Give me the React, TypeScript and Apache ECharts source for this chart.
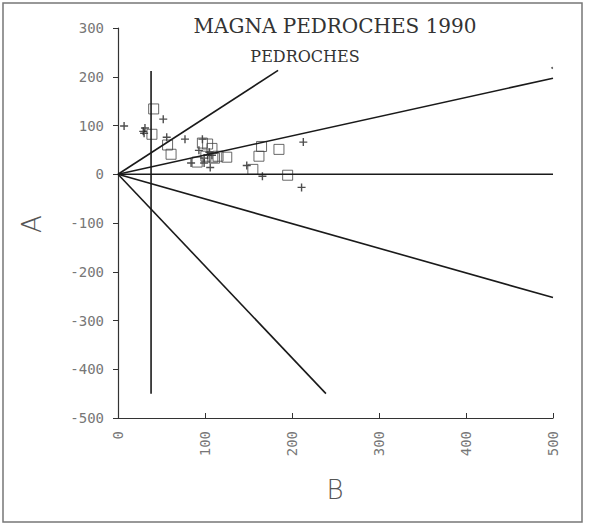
import React, { useEffect, useRef } from "react";
import * as echarts from "echarts";

const xTicks = [0, 100, 200, 300, 400, 500];
const yTicks = [-500, -400, -300, -200, -100, 0, 100, 200, 300];

const plusPoints: [number, number][] = [
  [7, 99], [52, 113], [31, 95], [29, 88], [30, 84], [56, 76], [77, 72], [97, 72],
  [93, 49], [84, 23], [99, 23], [106, 14], [103, 39], [99, 33], [108, 39], [105, 45],
  [148, 18], [166, -4], [213, 66], [211, -27],
];

const squarePoints: [number, number][] = [
  [41, 134], [39, 82], [57, 60], [61, 41], [97, 64], [103, 62], [108, 53], [101, 37],
  [111, 33], [91, 25], [125, 35], [165, 57], [185, 51], [162, 37], [155, 10], [195, -2],
  [109, 35], [115, 37],
];

const extraDot: [number, number][] = [[499, 218]];

const rayLines: [number, number][][] = [
  [[0, 0], [184, 213]],
  [[0, 0], [500, 197]],
  [[0, 0], [500, 0]],
  [[0, 0], [500, -253]],
  [[0, 0], [239, -450]],
];
const verticalLine: [number, number][] = [[38, 212], [38, -450]];

const titleText = "MAGNA PEDROCHES 1990";
const subtitleText = "PEDROCHES";
const xName = "B";
const yName = "A";

export default function App() {
  const ref = useRef<HTMLDivElement>(null);
  useEffect(() => {
    if (!ref.current) return;
    const chart = echarts.init(ref.current, undefined, { renderer: "svg" });
    const lineColor = "#1a1a1a";
    const mono = "'DejaVu Sans Mono', monospace";
    const series: any[] = [];
    rayLines.concat([verticalLine]).forEach((seg, i) => {
      series.push({
        type: "line",
        name: "line" + i,
        data: seg,
        symbol: "none",
        lineStyle: { color: lineColor, width: 1.6 },
        silent: true,
      });
    });
    series.push({
      type: "scatter",
      name: "plus",
      data: plusPoints,
      symbol: "path://M5,0 L5,10 M0,5 L10,5",
      symbolSize: 8,
      itemStyle: { color: "transparent", borderColor: "#222", borderWidth: 1.4 },
    });
    series.push({
      type: "scatter",
      name: "square",
      data: squarePoints,
      symbol: "rect",
      symbolSize: 10,
      itemStyle: { color: "transparent", borderColor: "#444", borderWidth: 1 },
    });
    series.push({
      type: "scatter",
      name: "dot",
      data: extraDot,
      symbol: "circle",
      symbolSize: 2,
      itemStyle: { color: "#444" },
    });
    chart.setOption({
      animation: false,
      backgroundColor: "#fff",
      grid: { left: 118, top: 28, right: 36, bottom: 105, containLabel: false },
      xAxis: {
        type: "value",
        min: 0,
        max: 500,
        interval: 100,
        splitLine: { show: false },
        axisLine: { show: true, onZero: false, lineStyle: { color: "#333", width: 1.2 } },
        axisTick: { show: true, inside: true, length: 5, lineStyle: { color: "#333" } },
        axisLabel: {
          rotate: 90,
          margin: 13,
          color: "#777",
          fontFamily: mono,
          fontSize: 14,
          formatter: (v: number) => (xTicks.includes(v) ? String(v) : ""),
        },
      },
      yAxis: {
        type: "value",
        min: -500,
        max: 300,
        interval: 100,
        splitLine: { show: false },
        axisLine: { show: true, onZero: false, lineStyle: { color: "#333", width: 1.2 } },
        axisTick: { show: true, inside: false, length: 5, lineStyle: { color: "#333" } },
        axisLabel: {
          margin: 14,
          color: "#777",
          fontFamily: mono,
          fontSize: 14,
          formatter: (v: number) => (yTicks.includes(v) ? String(v) : ""),
        },
      },
      graphic: [
        {
          type: "rect",
          shape: { x: 3, y: 3, width: 579, height: 519 },
          style: { fill: "none", stroke: "#777", lineWidth: 1.5 },
          silent: true,
        },
        {
          type: "text",
          x: 335,
          y: 26,
          style: {
            text: titleText,
            fill: "#333",
            font: "20px 'DejaVu Serif', serif",
            textAlign: "center",
            textVerticalAlign: "middle",
          },
        },
        {
          type: "text",
          x: 305,
          y: 56,
          style: {
            text: subtitleText,
            fill: "#333",
            font: "16px 'DejaVu Serif', serif",
            textAlign: "center",
            textVerticalAlign: "middle",
          },
        },
        {
          type: "text",
          x: 335,
          y: 490,
          style: {
            text: xName,
            fill: "#555",
            font: "200 26px 'DejaVu Sans', sans-serif",
            textAlign: "center",
            textVerticalAlign: "middle",
          },
        },
        {
          type: "text",
          x: 32,
          y: 224,
          rotation: Math.PI / 2,
          style: {
            text: yName,
            fill: "#555",
            font: "200 26px 'DejaVu Sans', sans-serif",
            textAlign: "center",
            textVerticalAlign: "middle",
          },
        },
      ],
      series,
    });
    return () => chart.dispose();
  }, []);
  return (
    <div
      ref={ref}
      style={{ position: "absolute", left: 0, top: 0, width: 589, height: 523 }}
    />
  );
}
